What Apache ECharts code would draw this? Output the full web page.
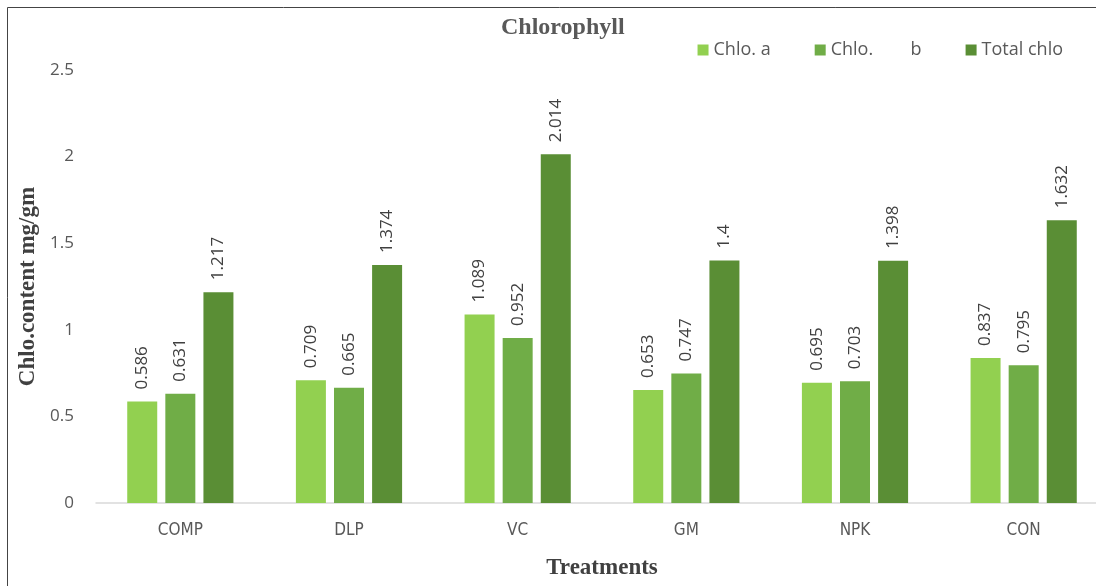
<!DOCTYPE html>
<html><head><meta charset="utf-8">
<script src="https://cdn.jsdelivr.net/npm/echarts@6/dist/echarts.min.js"></script>
<style>html,body{margin:0;padding:0;background:#fff;overflow:hidden}#c{width:1110px;height:586px}</style>
</head><body><div id="c"></div>
<script>
const categories = ['COMP','DLP','VC','GM','NPK','CON'];
const chloA = [0.586,0.709,1.089,0.653,0.695,0.837];
const chloB = [0.631,0.665,0.952,0.747,0.703,0.795];
const totalChlo = [1.217,1.374,2.014,1.4,1.398,1.632];
const seriesNames = ['Chlo. a','Chlo.        b','Total chlo'];
const colors = ['#92D050','#70AD47','#5A8E35'];
const chart = echarts.init(document.getElementById('c'));
const lbl = {show:true, position:'top', rotate:90, align:'left', verticalAlign:'middle', distance:12,
  color:'#404040', fontSize:17, fontFamily:'Open Sans', formatter:p=>String(p.value)};
const mk = (name,data,i)=>({name, type:'bar', data, barWidth:30, barGap:'27%',
  itemStyle:{color:colors[i]}, label:lbl});
chart.setOption({
  animation:false,
  title:{text:'Chlorophyll', left:496, top:11,
    textStyle:{fontFamily:'Liberation Serif', fontWeight:'bold', fontSize:24, color:'#595959'}},
  legend:{right:42, top:36, itemWidth:11, itemHeight:11, itemGap:44, icon:'rect',
    textStyle:{fontFamily:'Open Sans', fontSize:18, color:'#595959'}},
  graphic:[{type:'rect', shape:{x:7.5,y:7.5,width:1120,height:620}, style:{fill:'none', stroke:'#444', lineWidth:1}, z:100}],
  grid:{left:96, right:2, top:70, bottom:83},
  xAxis:{type:'category', data:categories,
    axisLine:{lineStyle:{color:'#D9D9D9', width:1.5}}, axisTick:{show:false},
    axisLabel:{color:'#595959', fontSize:17, fontFamily:'DejaVu Sans Condensed', margin:19},
    name:'Treatments', nameLocation:'middle', nameGap:54,
    nameTextStyle:{fontFamily:'Liberation Serif', fontWeight:'bold', fontSize:23, color:'#404040'}},
  yAxis:{type:'value', min:0, max:2.5, interval:0.5,
    splitLine:{show:false}, axisLine:{show:false}, axisTick:{show:false},
    axisLabel:{color:'#595959', fontSize:17, fontFamily:'Open Sans', margin:22},
    name:'Chlo.content mg/gm', nameLocation:'middle', nameGap:52,
    nameTextStyle:{fontFamily:'Liberation Serif', fontWeight:'bold', fontSize:23, color:'#404040'}},
  series:[mk(seriesNames[0],chloA,0), mk(seriesNames[1],chloB,1), mk(seriesNames[2],totalChlo,2)]
});
</script></body></html>
